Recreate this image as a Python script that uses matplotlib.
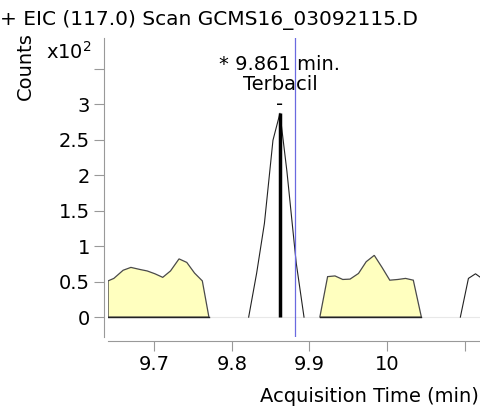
import matplotlib.pyplot as plt
from matplotlib.ticker import FixedLocator

# chromatogram segments (time in min, counts in x10^2)
area1_time = [9.6406, 9.648, 9.660, 9.670, 9.682, 9.691, 9.701, 9.711, 9.721, 9.732, 9.742, 9.752, 9.762, 9.7705]
area1_counts = [0.51, 0.545, 0.66, 0.70, 0.67, 0.65, 0.61, 0.56, 0.65, 0.82, 0.77, 0.62, 0.51, 0.0]

peak_time = [9.8217, 9.832, 9.842, 9.853, 9.862, 9.871, 9.883, 9.893]
peak_counts = [0.0, 0.62, 1.32, 2.49, 2.87, 2.05, 0.76, 0.0]

area2_time = [9.9134, 9.9234, 9.9329, 9.9429, 9.9523, 9.9632, 9.9731, 9.9835, 9.9935, 10.0035, 10.0139, 10.0238, 10.0338, 10.0442]
area2_counts = [0.0, 0.57, 0.58, 0.53, 0.535, 0.615, 0.78, 0.87, 0.70, 0.52, 0.53, 0.545, 0.52, 0.0]

tail_time = [10.0944, 10.1048, 10.1139, 10.1234]
tail_counts = [0.0, 0.545, 0.61, 0.535]

peak_rt = 9.862
peak_label = "* 9.861 min.\nTerbacil\n-"
cursor_time = 9.882

x_ticks = [9.7, 9.8, 9.9, 10.0, 10.1]
x_labels = ["9.7", "9.8", "9.9", "10", ""]
y_ticks = [0, 0.5, 1, 1.5, 2, 2.5, 3, 3.5]
y_labels = ["0", "0.5", "1", "1.5", "2", "2.5", "3", ""]

plt.rcParams['font.family'] = ['DejaVu Sans']
plt.rcParams['font.size'] = 14

fig = plt.figure(figsize=(4.81, 4.12), dpi=100)
ax = fig.add_axes([108/481, (412-337)/412, 1 - 108/481, (337-38)/412])

ax.set_xlim(9.6405, 10.121)
ax.set_ylim(-0.28, 3.93)

ax.axhline(0, color='#e8e8e8', lw=0.8, zorder=1)

for t, c in [(area1_time, area1_counts), (area2_time, area2_counts)]:
    ax.fill(t + [t[0]], c + [0.0], facecolor='#ffffbf', edgecolor='#4a4a4a', lw=0.9, zorder=2)
    ax.plot([t[0], t[-1]], [0, 0], color='#222222', lw=1.0, zorder=3)

ax.plot(peak_time, peak_counts, color='#222222', lw=0.8, zorder=3)
ax.plot(tail_time, tail_counts, color='#222222', lw=0.8, zorder=3)

ax.vlines(peak_rt, 0, max(peak_counts), color='black', lw=2.5, zorder=4)
ax.axvline(cursor_time, color='#6a6ae0', lw=0.9, zorder=5)
ax.text(peak_rt, 3.69, peak_label, ha='center', va='top', fontsize=14, linespacing=1.05)

for side in ['top', 'right']:
    ax.spines[side].set_visible(False)
ax.spines['left'].set_position(('outward', 3))
ax.spines['bottom'].set_position(('outward', 3))
ax.spines['left'].set_color('#999999')
ax.spines['bottom'].set_color('#999999')

ax.xaxis.set_major_locator(FixedLocator(x_ticks))
ax.set_xticklabels(x_labels)
ax.yaxis.set_major_locator(FixedLocator(y_ticks))
ax.set_yticklabels(y_labels)
ax.tick_params(colors='#999999', labelcolor='black', length=7, labelsize=14, pad=3)

fig.text(0.0, 1 - 20/412, "+ EIC (117.0) Scan GCMS16_03092115.D", ha='left', va='center', fontsize=14.5)
fig.text(25/481, 1 - 66/412, "Counts", rotation=90, ha='center', va='center', fontsize=14)
fig.text(46/481, 1 - 52/412, r"x10$^{2}$", ha='left', va='center', fontsize=14)
fig.text(479/481, 1 - 397/412, "Acquisition Time (min)", ha='right', va='center', fontsize=14)

fig.savefig('out.png', dpi=100)
